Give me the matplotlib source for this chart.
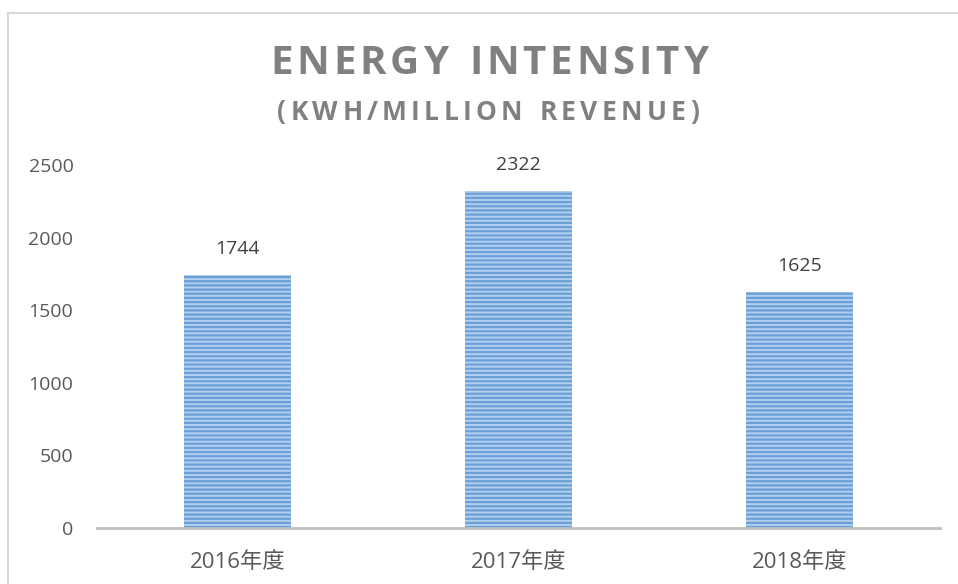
import matplotlib
matplotlib.use("Agg")
import matplotlib.pyplot as plt
from matplotlib.lines import Line2D

categories = ["2016年度", "2017年度", "2018年度"]
values = [1744, 2322, 1625]
yticks = [0, 500, 1000, 1500, 2000, 2500]
title = "ENERGY INTENSITY"
subtitle = "(KWH/MILLION REVENUE)"

plt.rcParams['font.family'] = ['Open Sans', 'Noto Sans CJK SC', 'DejaVu Sans']
plt.rcParams['hatch.linewidth'] = 1.6

W, H = 958, 584
fig = plt.figure(figsize=(W / 100, H / 100), dpi=100)
ax = fig.add_axes([97 / W, 1 - 528 / H, (940 - 97) / W, (528 - 165) / H])

bars = ax.bar(range(len(values)), values, width=0.38, color='#b3cfee',
              edgecolor='#6a9fd8', linewidth=0, hatch='----')

for i, v in enumerate(values):
    ax.annotate(str(v), (i, v), xytext=(0, 12), textcoords='offset points',
                ha='center', va='bottom', fontsize=14, color='#404040')

ax.set_xlim(-0.5, len(values) - 0.5)
ax.set_ylim(0, 2500)
ax.set_yticks(yticks)
ax.set_yticklabels([str(t) for t in yticks])
ax.set_xticks(range(len(categories)))
ax.set_xticklabels(categories)
ax.tick_params(axis='y', length=0, pad=17, labelsize=14, labelcolor='#595959')
ax.tick_params(axis='x', length=0, pad=17, labelsize=16, labelcolor='#595959')
for s in ['top', 'right', 'left']:
    ax.spines[s].set_visible(False)
ax.spines['bottom'].set_color('#bfbfbf')
ax.spines['bottom'].set_linewidth(2)

# border
fig.add_artist(Line2D([8 / W, 1.0], [1 - 13 / H, 1 - 13 / H], color='#d9d9d9', lw=1.5,
                      transform=fig.transFigure))
fig.add_artist(Line2D([8 / W, 8 / W], [1 - 13 / H, 0], color='#d9d9d9', lw=1.5,
                      transform=fig.transFigure))

# letter-spaced titles
fig.canvas.draw()
renderer = fig.canvas.get_renderer()


def spaced_text(s, xc, yc, size, spacing):
    widths = []
    for ch in s:
        t = fig.text(0, 0, ch if ch != ' ' else 'n', fontsize=size, fontweight='bold')
        bb = t.get_window_extent(renderer)
        widths.append(bb.width if ch != ' ' else bb.width * 0.5)
        t.remove()
    total = sum(widths) + spacing * (len(s) - 1)
    x = xc - total / 2
    for ch, w in zip(s, widths):
        if ch != ' ':
            fig.text(x / W, 1 - yc / H, ch, fontsize=size, fontweight='bold',
                     color='#808080', ha='left', va='center')
        x += w + spacing


spaced_text(title, 489, 64, 29, 3.8)
spaced_text(subtitle, 488, 112, 19, 4.3)

fig.savefig("out.png", dpi=100)
